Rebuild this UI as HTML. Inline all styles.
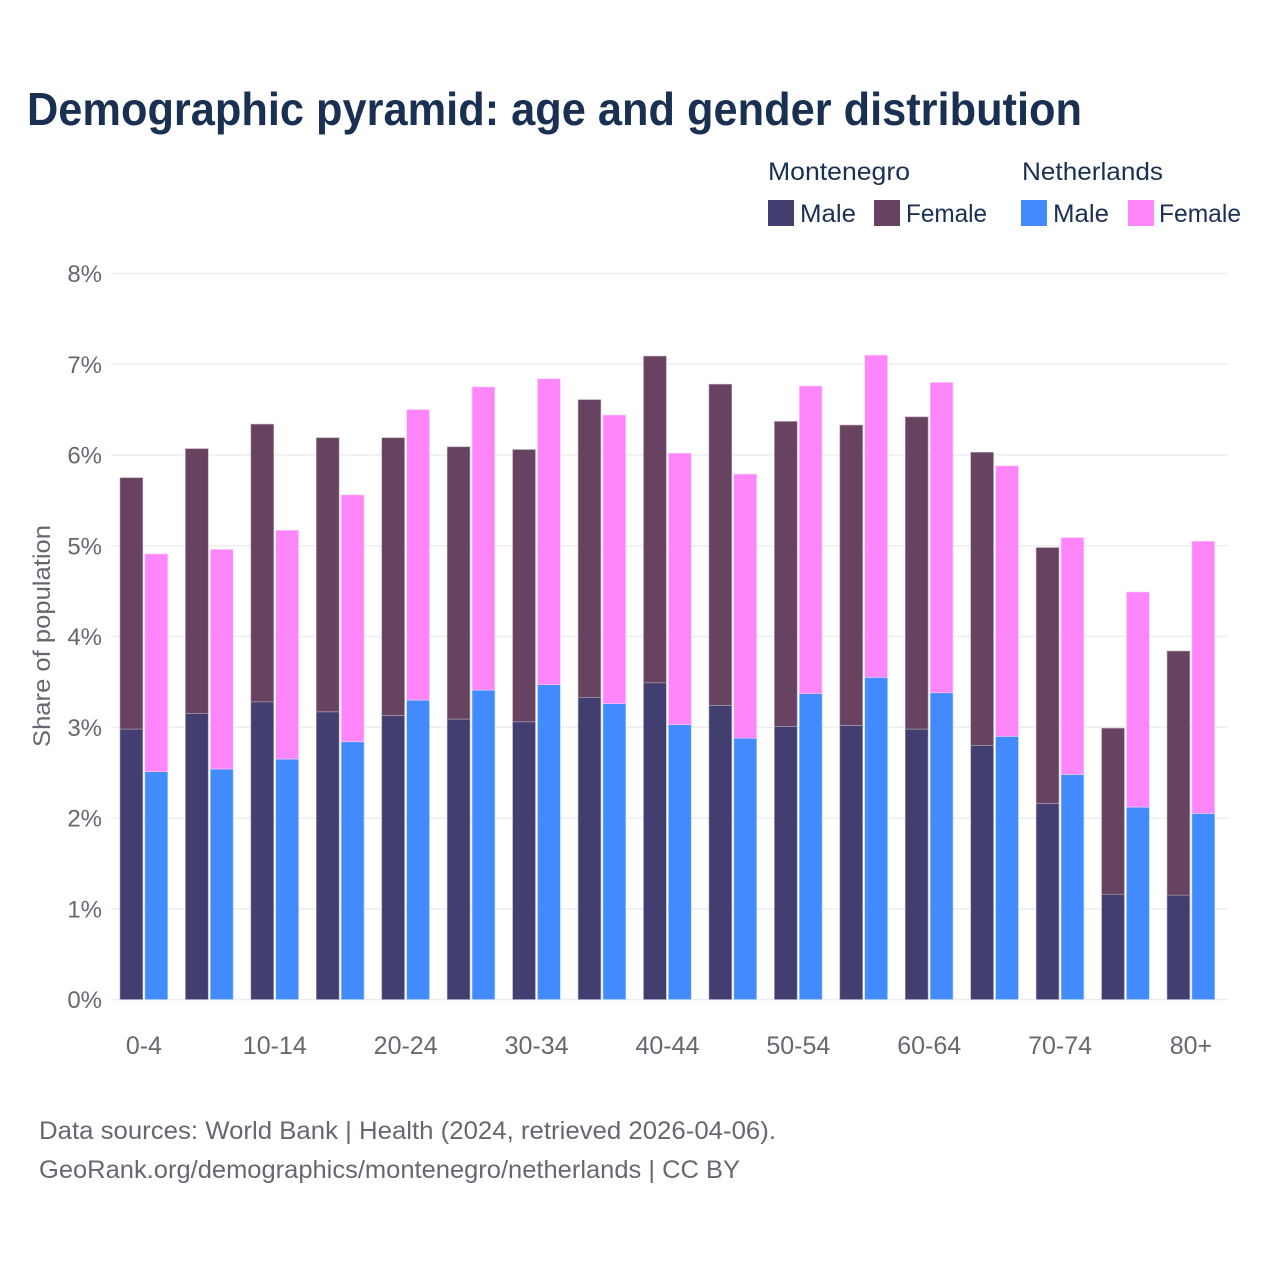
<!DOCTYPE html>
<html lang="en">
<head>
<meta charset="utf-8">
<title>Demographic pyramid: age and gender distribution</title>
<style>
  html, body { margin: 0; padding: 0; background: #fff; }
  svg { display: block; }
  text { font-family: "Liberation Sans", sans-serif; }
</style>
</head>
<body>
<svg id="chart" xmlns="http://www.w3.org/2000/svg" width="1280" height="1280" viewBox="0 0 1280 1280">
  <rect x="0" y="0" width="1280" height="1280" fill="#ffffff"/>
  <text x="27" y="125" font-size="46" font-weight="700" fill="#1a3052" textLength="1055" lengthAdjust="spacingAndGlyphs">Demographic pyramid: age and gender distribution</text>

  <g>
    <text x="768" y="180" font-size="25" fill="#1a3052" textLength="142" lengthAdjust="spacingAndGlyphs">Montenegro</text>
    <text x="1022" y="180" font-size="25" fill="#1a3052" textLength="141" lengthAdjust="spacingAndGlyphs">Netherlands</text>
    <rect x="768" y="200" width="26" height="26" fill="#433e70"/>
    <text x="800" y="222" font-size="25" fill="#1a3052" textLength="56" lengthAdjust="spacingAndGlyphs">Male</text>
    <rect x="874" y="200" width="26" height="26" fill="#674261"/>
    <text x="906" y="222" font-size="25" fill="#1a3052" textLength="81" lengthAdjust="spacingAndGlyphs">Female</text>
    <rect x="1021" y="200" width="26" height="26" fill="#418bff"/>
    <text x="1053" y="222" font-size="25" fill="#1a3052" textLength="56" lengthAdjust="spacingAndGlyphs">Male</text>
    <rect x="1128" y="200" width="26" height="26" fill="#ff85fa"/>
    <text x="1159" y="222" font-size="25" fill="#1a3052" textLength="82" lengthAdjust="spacingAndGlyphs">Female</text>
  </g>

  <g id="grid"></g>
  <g id="y-ticks"></g>
  <g id="x-ticks"></g>
  <g id="bars"></g>

  <text transform="translate(50,636) rotate(-90)" text-anchor="middle" font-size="24" fill="#6b6570" textLength="222" lengthAdjust="spacingAndGlyphs">Share of population</text>

  <text x="39" y="1139" font-size="25" fill="#6b6570" textLength="737" lengthAdjust="spacingAndGlyphs">Data sources: World Bank | Health (2024, retrieved 2026-04-06).</text>
  <text x="39" y="1178" font-size="25" fill="#6b6570" textLength="701" lengthAdjust="spacingAndGlyphs">GeoRank.org/demographics/montenegro/netherlands | CC BY</text>
</svg>

<script>
const categories = ["0-4","5-9","10-14","15-19","20-24","25-29","30-34","35-39","40-44","45-49","50-54","55-59","60-64","65-69","70-74","75-79","80+"];
const xTickLabels = ["0-4","10-14","20-24","30-34","40-44","50-54","60-64","70-74","80+"];
const yTickValues = [0,1,2,3,4,5,6,7,8];
const montenegroMale = [2.98,3.15,3.28,3.17,3.13,3.09,3.06,3.33,3.49,3.24,3.01,3.02,2.98,2.80,2.16,1.16,1.15];
const montenegroFemale = [2.77,2.92,3.06,3.02,3.06,3.00,3.00,3.28,3.60,3.54,3.36,3.31,3.44,3.23,2.82,1.83,2.69];
const netherlandsMale = [2.51,2.54,2.65,2.84,3.30,3.41,3.47,3.26,3.03,2.88,3.37,3.55,3.38,2.90,2.48,2.12,2.05];
const netherlandsFemale = [2.40,2.42,2.52,2.72,3.20,3.34,3.37,3.18,2.99,2.91,3.39,3.55,3.42,2.98,2.61,2.37,3.00];

const NS = "http://www.w3.org/2000/svg";
const yScale = function (v) { return 999.5 - v * 90.75; };
const xBand = function (i) { return 120 + i * 65.44; };
const barWidth = 22.8;
const barOffset = 24.9;

const gridGroup = document.getElementById("grid");
const yTickGroup = document.getElementById("y-ticks");
yTickValues.forEach(function (v) {
  const line = document.createElementNS(NS, "line");
  
  
  line.setAttribute("x1", 111);
  line.setAttribute("x2", 1228);
  line.setAttribute("y1", yScale(v));
  line.setAttribute("y2", yScale(v));
  line.setAttribute("stroke", "#eeeef2");
  line.setAttribute("stroke-width", 1.6);
  gridGroup.appendChild(line);

  const label = document.createElementNS(NS, "text");
  
  
  label.setAttribute("x", 102);
  label.setAttribute("y", yScale(v) + 8.5);
  label.setAttribute("text-anchor", "end");
  label.setAttribute("font-size", 24);
  label.setAttribute("fill", "#6b6570");
  label.textContent = v + "%";
  yTickGroup.appendChild(label);
});

const xTickGroup = document.getElementById("x-ticks");
xTickLabels.forEach(function (name) {
  const i = categories.indexOf(name);
  const label = document.createElementNS(NS, "text");
  
  
  label.setAttribute("x", xBand(i) + barOffset - 1);
  label.setAttribute("y", 1054);
  label.setAttribute("text-anchor", "middle");
  label.setAttribute("font-size", 25);
  label.setAttribute("fill", "#6b6570");
  label.textContent = name;
  xTickGroup.appendChild(label);
});

const barGroup = document.getElementById("bars");
function drawBar(x, low, high, fill, edge) {
  const rect = document.createElementNS(NS, "rect");
  
  
  rect.setAttribute("x", x);
  rect.setAttribute("y", yScale(low + high));
  rect.setAttribute("width", barWidth);
  rect.setAttribute("height", yScale(low) - yScale(low + high));
  rect.setAttribute("fill", fill);
  rect.setAttribute("stroke", edge);
  rect.setAttribute("stroke-width", 0.6);
  barGroup.appendChild(rect);
}
categories.forEach(function (c, i) {
  const x = xBand(i);
  drawBar(x, 0, montenegroMale[i], "#433e70", "#a9a7c0");
  drawBar(x, montenegroMale[i], montenegroFemale[i], "#674261", "#b7a5b3");
  drawBar(x + barOffset, 0, netherlandsMale[i], "#418bff", "#b5d2ff");
  drawBar(x + barOffset, netherlandsMale[i], netherlandsFemale[i], "#ff85fa", "#ffd0fd");
});
</script>
</body>
</html>
